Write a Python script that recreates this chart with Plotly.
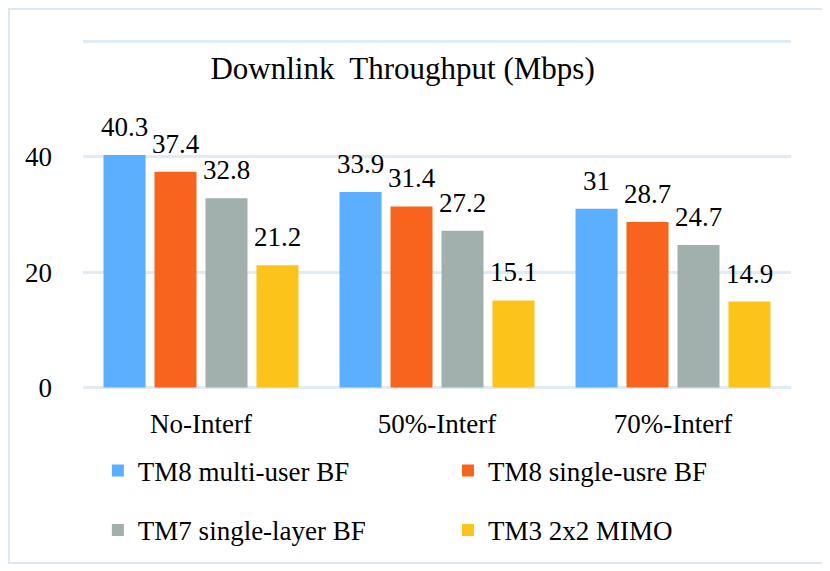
import plotly.graph_objects as go

# data
categories = ["No-Interf", "50%-Interf", "70%-Interf"]
series_names = [
    "TM8 multi-user BF",
    "TM8 single-usre BF",
    "TM7 single-layer BF",
    "TM3 2x2 MIMO",
]
tm8_multi = [40.3, 33.9, 31]
tm8_single = [37.4, 31.4, 28.7]
tm7_single = [32.8, 27.2, 24.7]
tm3_mimo = [21.2, 15.1, 14.9]
y_ticks = [0, 20, 40, 60]
y_tick_text = ["0", "20", "40", ""]

colors = ["#5cafff", "#f8641e", "#a1b0ad", "#fcc41a"]
FONT = "Liberation Serif, Times New Roman, serif"

# the page body adds an 8px offset, so the figure is a bit smaller than the window
W, H = 822, 563
M = dict(l=75, r=39, t=32, b=182)
BARGAP = 0.136
GROUPGAP = 0.176

# where each legend entry sits (two columns, two rows)
legend_pos = [(0.021, -0.235), (0.5155, -0.235), (0.021, -0.405), (0.5155, -0.405)]

all_series = [tm8_multi, tm8_single, tm7_single, tm3_mimo]

fig = go.Figure()
for i, (name, vals, color) in enumerate(zip(series_names, all_series, colors)):
    fig.add_trace(
        go.Bar(
            x=categories,
            y=vals,
            name=name,
            showlegend=True,
            marker=dict(color=color, line=dict(width=0)),
            legend="legend" if i == 0 else f"legend{i + 1}",
        )
    )

# value labels above the bars
plot_w = W - M["l"] - M["r"]
slot = plot_w / len(categories) * (1 - BARGAP) / len(all_series)
for i, vals in enumerate(all_series):
    for cat, v in zip(categories, vals):
        fig.add_annotation(
            x=cat,
            y=v,
            text=str(v),
            showarrow=False,
            xshift=(i - 1.5) * slot,
            yshift=28,
            yanchor="middle",
            font=dict(family=FONT, size=27, color="black"),
        )

legend_style = dict(
    orientation="h",
    xanchor="left",
    yanchor="middle",
    font=dict(family=FONT, size=27, color="black"),
    bgcolor="rgba(0,0,0,0)",
    visible=True,
)
layout_legends = {}
for i, (lx, ly) in enumerate(legend_pos):
    key = "legend" if i == 0 else f"legend{i + 1}"
    layout_legends[key] = dict(legend_style, x=lx, y=ly)

fig.update_layout(
    width=W,
    height=H,
    margin=M,
    paper_bgcolor="white",
    plot_bgcolor="white",
    showlegend=True,
    barmode="group",
    bargap=BARGAP,
    bargroupgap=GROUPGAP,
    font=dict(family=FONT, color="black"),
    title=dict(
        text="Downlink&nbsp; Throughput (Mbps)",
        x=0.48,
        xanchor="center",
        y=0.893,
        yanchor="middle",
        font=dict(family=FONT, size=31, color="black"),
    ),
    **layout_legends,
)

fig.update_yaxes(
    range=[-0.25, 60.25],
    tickvals=y_ticks,
    ticktext=y_tick_text,
    showgrid=True,
    gridcolor="#e0ebf4",
    gridwidth=2.5,
    zeroline=False,
    showline=False,
    ticks="",
    ticklabelstandoff=30,
    automargin=False,
    tickfont=dict(family=FONT, size=27),
)
fig.update_xaxes(
    showline=False,
    ticks="",
    ticklabelstandoff=16,
    automargin=False,
    tickfont=dict(family=FONT, size=27),
)

# light outer frame around the whole chart
fig.add_shape(
    type="rect",
    xref="paper",
    yref="paper",
    x0=-0.1045,
    x1=1.048,
    y0=-0.4986,
    y1=1.089,
    line=dict(color="#dde9f2", width=2),
    layer="below",
)

fig.write_html("out.html")
